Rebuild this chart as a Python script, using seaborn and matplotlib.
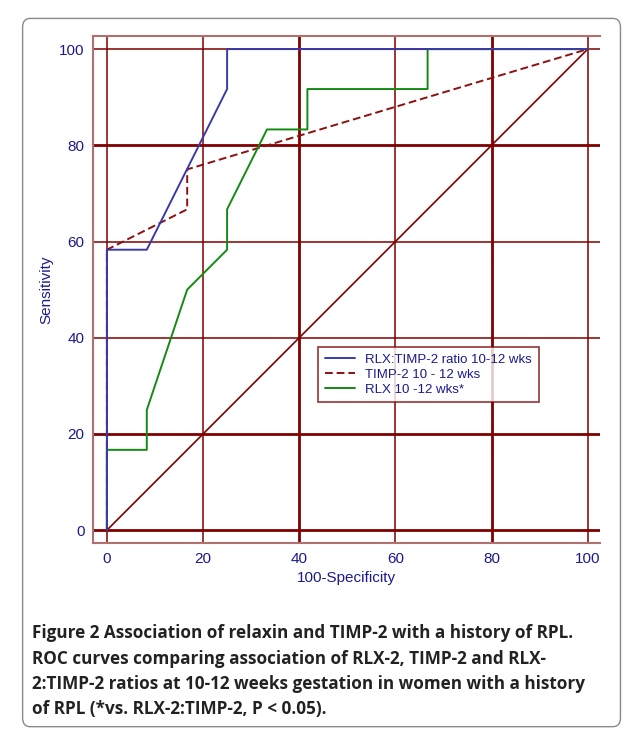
import matplotlib
matplotlib.use("Agg")
import matplotlib.pyplot as plt
import seaborn as sns
from matplotlib.patches import FancyBboxPatch

# ROC curves (100-specificity, sensitivity)
ratio_x = [0, 0, 8.3, 25, 25, 100]
ratio_y = [0, 58.3, 58.3, 91.7, 100, 100]
timp_x = [0, 0, 16.7, 16.7, 100]
timp_y = [0, 58.3, 66.7, 75, 100]
rlx_x = [0, 0, 8.3, 8.3, 16.7, 25, 25, 33.3, 41.7, 41.7, 66.7, 66.7, 100]
rlx_y = [0, 16.7, 16.7, 25, 50, 58.3, 66.7, 83.3, 83.3, 91.7, 91.7, 100, 100]
diag = [0, 100]
ticks = [0, 20, 40, 60, 80, 100]

sns.set_style("white")
plt.rcParams["font.family"] = ["Liberation Sans", "DejaVu Sans"]

dark = "#800000"
navy = "#1a1a8c"

fig = plt.figure(figsize=(6.28, 7.37), dpi=100)
ax = fig.add_axes([0.148, 0.263, 0.807, 0.688])

for t in ticks:
    ax.axvline(t, color=dark, lw=2.0 if t in (40, 80) else 1.1, zorder=1)
    ax.axhline(t, color=dark, lw=2.0 if t in (0, 20, 80) else 1.1, zorder=1)

ax.plot(diag, diag, color=dark, lw=1.2, zorder=2)
sns.lineplot(x=ratio_x, y=ratio_y, ax=ax, sort=False, estimator=None,
             color="#3a3aa8", lw=1.4, label="RLX:TIMP-2 ratio 10-12 wks", zorder=4)
ax.plot(timp_x, timp_y, color="#8b1010", lw=1.4, ls=(0, (4, 2)),
        label="TIMP-2 10 - 12 wks", zorder=3)
sns.lineplot(x=rlx_x, y=rlx_y, ax=ax, sort=False, estimator=None,
             color="#138a13", lw=1.4, label="RLX 10 -12 wks*", zorder=3)

ax.set_xlim(-2.9, 102.5)
ax.set_ylim(-2.7, 102.7)
ax.set_xticks(ticks)
ax.set_yticks(ticks)
ax.set_xticks(range(5, 100, 5), minor=True)
ax.set_yticks(range(5, 100, 5), minor=True)
ax.tick_params(which="both", direction="in", color="#c08080", labelcolor=navy,
               labelsize=11)
ax.tick_params(which="major", length=0, pad=6)
ax.tick_params(which="minor", length=5)
for s in ["left", "bottom", "top"]:
    ax.spines[s].set_color("#b07070")
    ax.spines[s].set_linewidth(1.5)
ax.spines["right"].set_visible(False)
ax.set_xlabel("100-Specificity", color=navy, fontsize=11)
ax.set_ylabel("Sensitivity", color=navy, fontsize=11)

leg = ax.legend(loc="upper left", bbox_to_anchor=(0.444, 0.387), fontsize=9.5,
                frameon=True, fancybox=False, handlelength=2.3,
                borderpad=0.5, labelspacing=0.2, borderaxespad=0)
leg.get_frame().set_edgecolor(dark)
leg.get_frame().set_linewidth(1.2)
for t in leg.get_texts():
    t.set_color(navy)

fig.patches.append(FancyBboxPatch((0.036, 0.014), 0.952, 0.961,
                                  boxstyle="round,pad=0,rounding_size=0.012",
                                  transform=fig.transFigure, fill=False,
                                  edgecolor="#8a8a8a", lw=1.0))

cap_font = ["Open Sans", "DejaVu Sans"]
lines = [
    "Figure 2 Association of relaxin and TIMP-2 with a history of RPL.",
    "ROC curves comparing association of RLX-2, TIMP-2 and RLX-",
    "2:TIMP-2 ratios at 10-12 weeks gestation in women with a history",
    "of RPL (*vs. RLX-2:TIMP-2, P < 0.05).",
]
for i, line in enumerate(lines):
    fig.text(0.051, 0.141 - i * 0.0345, line, fontsize=12.3,
             fontweight="bold", family=cap_font, color="#222222", va="center")

fig.savefig("out.png", dpi=100)
